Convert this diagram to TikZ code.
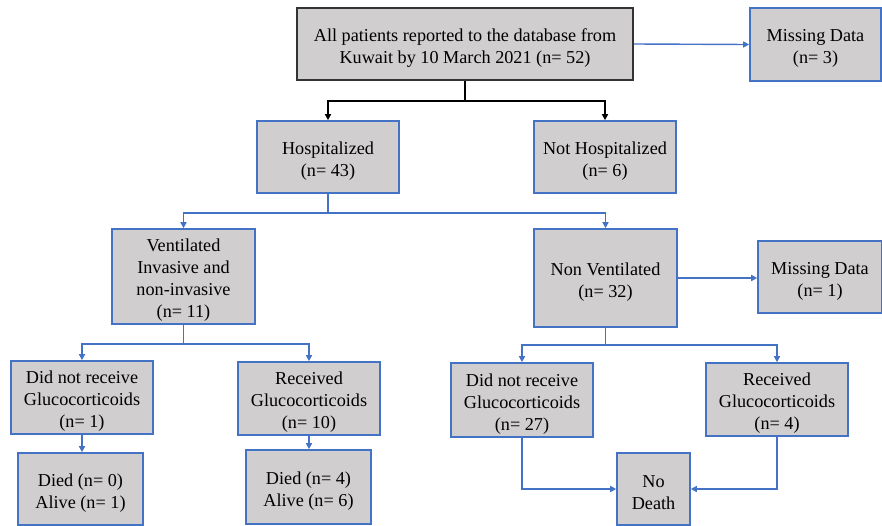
\documentclass[tikz,border=0pt]{standalone}
\usepackage{fontspec}
\setmainfont{Liberation Serif}
\usetikzlibrary{arrows.meta}
\definecolor{boxblue}{RGB}{68,114,196}
\definecolor{boxgray}{RGB}{208,206,206}
\newcommand{\lift}{\rule{0pt}{20pt}}

\begin{document}
\begin{tikzpicture}[x=1pt,y=-1pt,
        box/.style={draw=boxblue,fill=boxgray,line width=1.6pt,align=center,inner sep=0pt,
            minimum width=142pt,minimum height=73pt,font=\fontsize{18.2}{22}\selectfont},
        link/.style={draw=boxblue,line width=1.4pt,-{Triangle[width=6pt,length=6pt]}}]
    \useasboundingbox (0,0) rectangle (882,525);
    % first levels
    \node [box,draw=black!80,minimum width=336pt,minimum height=72pt] (all) at (465,44)
        {\lift All patients reported to the database from\\Kuwait by 10 March 2021 (n= 52)};
    \node [box,minimum width=131pt] (miss1) at (815.5,44.5) {\lift Missing Data\\(n= 3)};
    \node [box,minimum height=72pt] (hosp) at (328,157) {\lift Hospitalized\\(n= 43)};
    \node [box,minimum height=72pt] (nothosp) at (605,157) {\lift Not Hospitalized\\(n= 6)};
    \node [box,minimum width=143pt,minimum height=95pt] (vent) at (183.5,276.5)
        {\lift Ventilated\\Invasive and\\non-invasive\\(n= 11)};
    \node [box,minimum width=143pt,minimum height=98pt] (nonvent) at (605.5,278) {\lift Non Ventilated\\(n= 32)};
    \node [box,minimum width=124pt,minimum height=72pt] (miss2) at (820,277) {\lift Missing Data\\(n= 1)};
    % glucocorticoids
    \node [box] (dnr1) at (82,397.5) {\lift Did not receive\\Glucocorticoids\\(n= 1)};
    \node [box] (rec1) at (309,398.5) {\lift Received\\Glucocorticoids\\(n= 10)};
    \node [box,minimum height=74pt] (dnr2) at (522,400) {\lift Did not receive\\Glucocorticoids\\(n= 27)};
    \node [box] (rec2) at (777,399.5) {\lift Received\\Glucocorticoids\\(n= 4)};
    % outcomes
    \node [box,minimum width=125pt,minimum height=72pt] (died1) at (80.5,489) {\lift Died (n= 0)\\Alive (n= 1)};
    \node [box,minimum width=125pt,minimum height=74pt] (died2) at (308.5,487) {\lift Died (n= 4)\\Alive (n= 6)};
    \node [box,minimum width=73pt,minimum height=72pt] (nodeath) at (653.5,489) {\lift No\\Death};

    \draw [link] (all.east) -- (miss1.west);
    \draw [link,draw=black] (all.south) -- ++(0,20) -| (hosp.north);
    \draw [link,draw=black] (all.south) -- ++(0,20) -| (nothosp.north);
    \draw [link] (hosp.south) -- ++(0,19) -| (vent.north);
    \draw [link] (hosp.south) -- ++(0,19) -| (nonvent.north);
    \draw [link] (nonvent.east) -- (nonvent.east -| miss2.west);
    \draw [link] (vent.south) -- ++(0,19) -| (dnr1.north);
    \draw [link] (vent.south) -- ++(0,19) -| (rec1.north);
    \draw [link] (nonvent.south) -- ++(0,17) -| (dnr2.north);
    \draw [link] (nonvent.south) -- ++(0,17) -| (rec2.north);
    \draw [link] (dnr1.south) -- (dnr1.south |- died1.north);
    \draw [link] (rec1.south) -- (rec1.south |- died2.north);
    \draw [link] (dnr2.south) |- (nodeath.west);
    \draw [link] (rec2.south) |- (nodeath.east);
\end{tikzpicture}
\end{document}
